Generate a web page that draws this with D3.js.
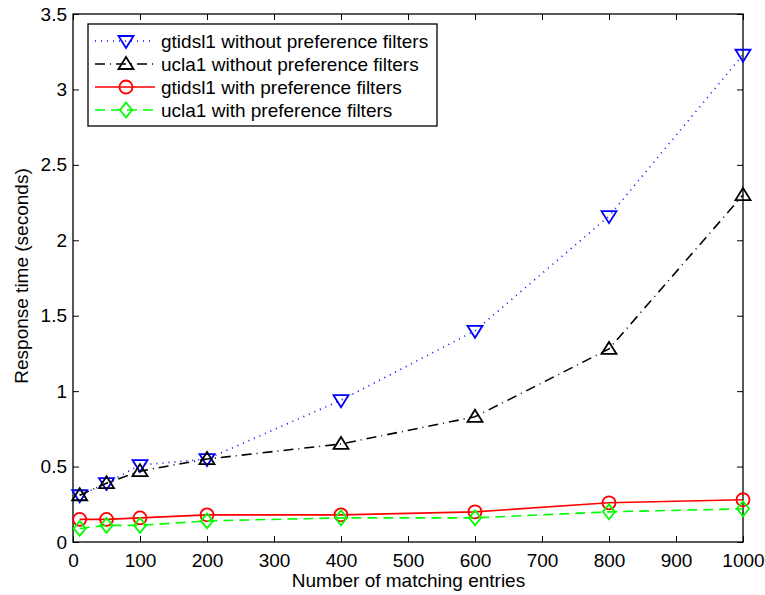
<!DOCTYPE html>
<html>
<head>
<meta charset="utf-8">
<script src="https://cdn.jsdelivr.net/npm/d3@7"></script>
<style>
  body { margin: 0; background: #fff; }
  svg text { font-family: "Liberation Sans", Arial, sans-serif; fill: #000; }
</style>
</head>
<body>
<svg id="chart" width="765" height="595"></svg>
<script>
// data
var entries = [10, 50, 100, 200, 400, 600, 800, 1000];
var gtidslWithout = [0.31, 0.39, 0.51, 0.55, 0.94, 1.40, 2.16, 3.23];
var uclaWithout = [0.31, 0.39, 0.47, 0.55, 0.65, 0.83, 1.28, 2.30];
var gtidslWith = [0.15, 0.15, 0.16, 0.18, 0.18, 0.20, 0.26, 0.28];
var uclaWith = [0.09, 0.11, 0.11, 0.14, 0.16, 0.16, 0.20, 0.22];
var xTicks = [0, 100, 200, 300, 400, 500, 600, 700, 800, 900, 1000];
var yTicks = [0, 0.5, 1, 1.5, 2, 2.5, 3, 3.5];

var series = [
  { name: "gtidsl1 without preference filters", values: gtidslWithout, color: "#0000ff", dash: "1,5", marker: "down" },
  { name: "ucla1 without preference filters", values: uclaWithout, color: "#000000", dash: "10,5,1,5", marker: "up" },
  { name: "gtidsl1 with preference filters", values: gtidslWith, color: "#ff0000", dash: null, marker: "circle" },
  { name: "ucla1 with preference filters", values: uclaWith, color: "#00ff00", dash: "10,6", marker: "diamond" }
];

var svg = d3.select("#chart");
// plot box edges
var marginLeft = 73, marginRight = 22, marginTop = 14, marginBottom = 53;
var width = 765 - marginLeft - marginRight;
var height = 595 - marginTop - marginBottom;
var fontSize = 19;

var x = d3.scaleLinear().domain([0, 1000]).range([marginLeft, marginLeft + width]);
var y = d3.scaleLinear().domain([0, 3.5]).range([marginTop + height, marginTop]);
var fmt = d3.format("");

// axes with inward ticks on all four sides
var tickLen = 6;
svg.append("g")
   .attr("transform", "translate(0," + (marginTop + height) + ")")
   .call(d3.axisBottom(x).tickValues(xTicks).tickFormat(fmt).tickSizeInner(-tickLen).tickSizeOuter(0).tickPadding(11.5))
   .call(function(g) { g.selectAll("text").attr("font-size", fontSize); });
svg.append("g")
   .attr("transform", "translate(0," + marginTop + ")")
   .call(d3.axisTop(x).tickValues(xTicks).tickSizeInner(-tickLen).tickSizeOuter(0).tickFormat(""));
svg.append("g")
   .attr("transform", "translate(" + marginLeft + ",0)")
   .call(d3.axisLeft(y).tickValues(yTicks).tickFormat(fmt).tickSizeInner(-tickLen).tickSizeOuter(0).tickPadding(6))
   .call(function(g) { g.selectAll("text").attr("font-size", fontSize); });
svg.append("g")
   .attr("transform", "translate(" + (marginLeft + width) + ",0)")
   .call(d3.axisRight(y).tickValues(yTicks).tickSizeInner(-tickLen).tickSizeOuter(0).tickFormat(""));

svg.selectAll(".domain").remove();
svg.selectAll(".tick line").attr("stroke", "#000").attr("stroke-width", 1);
svg.append("rect")
   .attr("x", marginLeft).attr("y", marginTop)
   .attr("width", width).attr("height", height)
   .attr("fill", "none").attr("stroke", "#000").attr("stroke-width", 1.3);

// axis titles
svg.append("text")
   .attr("x", marginLeft + width / 2 + 0.5).attr("y", 587)
   .attr("text-anchor", "middle").attr("font-size", fontSize)
   .text("Number of matching entries");
svg.append("text")
   .attr("transform", "translate(28," + 276 + ") rotate(-90)")
   .attr("text-anchor", "middle").attr("font-size", fontSize)
   .text("Response time (seconds)");

// marker drawing helper
function drawMarker(g, type, cx, cy, color) {
  var el;
  if (type == "circle") {
    el = g.append("circle").attr("cx", cx).attr("cy", cy).attr("r", 6.5);
  } else {
    var pts;
    if (type == "down") pts = [[cx - 7.5, cy - 5], [cx + 7.5, cy - 5], [cx, cy + 7]];
    else if (type == "up") pts = [[cx - 7.5, cy + 5], [cx + 7.5, cy + 5], [cx, cy - 7]];
    else pts = [[cx, cy - 7.5], [cx + 6, cy], [cx, cy + 7.5], [cx - 6, cy]];
    el = g.append("polygon").attr("points", pts.map(function(p) { return p.join(","); }).join(" "));
  }
  el.attr("fill", "none").attr("stroke", color).attr("stroke-width", 1.8);
}

var line = d3.line()
  .x(function(d) { return x(d[0]); })
  .y(function(d) { return y(d[1]); });

series.forEach(function(s) {
  var pts = entries.map(function(e, i) { return [e, s.values[i]]; });
  var g = svg.append("g");
  g.append("path")
   .attr("d", line(pts))
   .attr("fill", "none")
   .attr("stroke", s.color)
   .attr("stroke-width", 1.6)
   .attr("stroke-dasharray", s.dash);
  pts.forEach(function(p) { drawMarker(g, s.marker, x(p[0]), y(p[1]), s.color); });
});

// legend
var legend = svg.append("g");
legend.append("rect")
   .attr("x", 88).attr("y", 24).attr("width", 349).attr("height", 102)
   .attr("fill", "#fff").attr("stroke", "#000").attr("stroke-width", 1.3);
series.forEach(function(s, i) {
  var ly = 41 + i * 23;
  legend.append("line")
     .attr("x1", 95).attr("x2", 155).attr("y1", ly).attr("y2", ly)
     .attr("stroke", s.color).attr("stroke-width", 1.6)
     .attr("stroke-dasharray", s.dash);
  drawMarker(legend, s.marker, 126, ly, s.color);
  legend.append("text")
     .attr("x", 161).attr("y", ly + 6.5)
     .attr("font-size", fontSize)
     .text(s.name);
});
</script>
</body>
</html>
